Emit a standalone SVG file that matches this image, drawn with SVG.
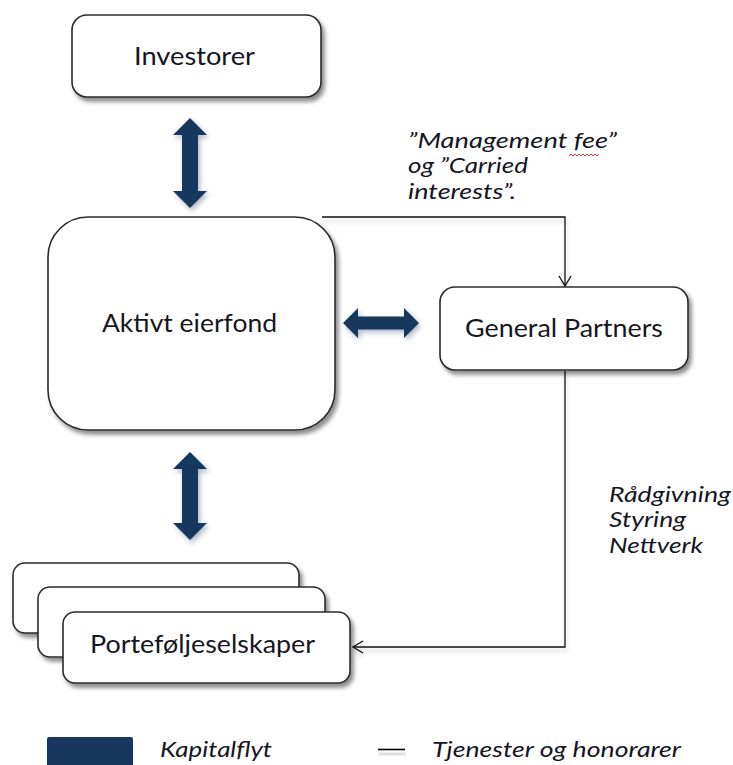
<svg xmlns="http://www.w3.org/2000/svg" width="733" height="765" viewBox="0 0 733 765">
  <style>
    .box { fill: #ffffff; stroke: #2b2b2b; stroke-width: 1.6; filter: url(#boxShadow); }
    .label { font-family: Lato, "Open Sans", "Liberation Sans", sans-serif; font-size: 25px; fill: #16161f; }
    .note { font-family: Lato, "Open Sans", "Liberation Sans", sans-serif; font-size: 22px; font-style: italic; fill: #16161f; }
    .flow { fill: #17375e; filter: url(#arrowShadow); }
    .link { fill: none; stroke: #111111; stroke-width: 1.3; filter: url(#lineShadow); }
    .key { fill: none; stroke: #000000; stroke-width: 1.6; }
  </style>
  <defs>
    <filter id="boxShadow" x="-10%" y="-10%" width="125%" height="130%">
      <feDropShadow dx="3" dy="4" stdDeviation="2.2" flood-color="#000000" flood-opacity="0.45"/>
    </filter>
    <filter id="arrowShadow" x="-30%" y="-30%" width="170%" height="170%">
      <feDropShadow dx="2" dy="3" stdDeviation="2.5" flood-color="#17375e" flood-opacity="0.35"/>
    </filter>
    <filter id="lineShadow" x="-5%" y="-20%" width="110%" height="140%">
      <feDropShadow dx="1" dy="4" stdDeviation="2" flood-color="#000000" flood-opacity="0.18"/>
    </filter>
    <marker id="openHead" markerUnits="userSpaceOnUse" markerWidth="14" markerHeight="14" refX="11" refY="7" orient="auto">
      <path d="M1,1 L11,7 L1,13" fill="none" stroke="#111111" stroke-width="1.3"/>
    </marker>
  </defs>

  <rect width="733" height="765" fill="#ffffff"/>

  <!-- service and fee connectors -->
  <g id="connectors">
    <path class="link" d="M322,217 H565 V286" marker-end="url(#openHead)"/>
    <path class="link" d="M565,371 V647 H353" marker-end="url(#openHead)"/>
  </g>

  <!-- capital flow arrows -->
  <g id="capital-flows">
    <polygon class="flow" points="190,118 207,135 198,135 198,191 207,191 190,208 173,191 182,191 182,135 173,135"/>
    <polygon class="flow" points="190,452 207,469 198,469 198,523 207,523 190,540 173,523 182,523 182,469 173,469"/>
    <polygon class="flow" points="343,323 358,308 358,316.5 404,316.5 404,308 419,323 404,338 404,329.5 358,329.5 358,338"/>
  </g>

  <g id="investorer">
    <rect class="box" x="72" y="15" width="249" height="82" rx="15"/>
    <text class="label" x="134" y="65" textLength="121" lengthAdjust="spacingAndGlyphs">Investorer</text>
  </g>

  <g id="aktivt-eierfond">
    <rect class="box" x="48" y="217" width="287" height="213" rx="40"/>
    <text class="label" x="102" y="332" textLength="175" lengthAdjust="spacingAndGlyphs">Aktivt eierfond</text>
  </g>

  <g id="general-partners">
    <rect class="box" x="440" y="287" width="248" height="83" rx="15"/>
    <text class="label" x="465" y="337" textLength="198" lengthAdjust="spacingAndGlyphs">General Partners</text>
  </g>

  <g id="portefoljeselskaper">
    <rect class="box" x="13" y="563" width="286" height="70" rx="12"/>
    <rect class="box" x="38" y="587" width="287" height="70" rx="12"/>
    <rect class="box" x="63" y="612" width="287" height="71" rx="12"/>
    <text class="label" x="90" y="653" textLength="225" lengthAdjust="spacingAndGlyphs">Porteføljeselskaper</text>
  </g>

  <g id="fee-note">
    <text class="note" x="408" y="148" textLength="209" lengthAdjust="spacingAndGlyphs">”Management fee”</text>
    <text class="note" x="408" y="173" textLength="120" lengthAdjust="spacingAndGlyphs">og ”Carried</text>
    <text class="note" x="408" y="199" textLength="108" lengthAdjust="spacingAndGlyphs">interests”.</text>
    <path d="M569,156 l2,-2 l2,2 l2,-2 l2,2 l2,-2 l2,2 l2,-2 l2,2 l2,-2 l2,2 l2,-2 l2,2 l2,-2 l2,2 l2,-2" fill="none" stroke="#e02020" stroke-width="0.9"/>
  </g>

  <g id="service-note">
    <text class="note" x="609" y="502" textLength="122" lengthAdjust="spacingAndGlyphs">Rådgivning</text>
    <text class="note" x="609" y="527" textLength="77" lengthAdjust="spacingAndGlyphs">Styring</text>
    <text class="note" x="609" y="553" textLength="94" lengthAdjust="spacingAndGlyphs">Nettverk</text>
  </g>

  <g id="legend">
    <rect x="47" y="737" width="86" height="30" rx="2" fill="#17375e"/>
    <text class="note" x="160" y="757" textLength="112" lengthAdjust="spacingAndGlyphs">Kapitalflyt</text>
    <line x1="379" y1="754" x2="406" y2="754" stroke="#000000" stroke-opacity="0.12" stroke-width="3"/>
    <line class="key" x1="378" y1="749.5" x2="405" y2="749.5"/>
    <text class="note" x="432" y="757" textLength="249" lengthAdjust="spacingAndGlyphs">Tjenester og honorarer</text>
  </g>
</svg>
